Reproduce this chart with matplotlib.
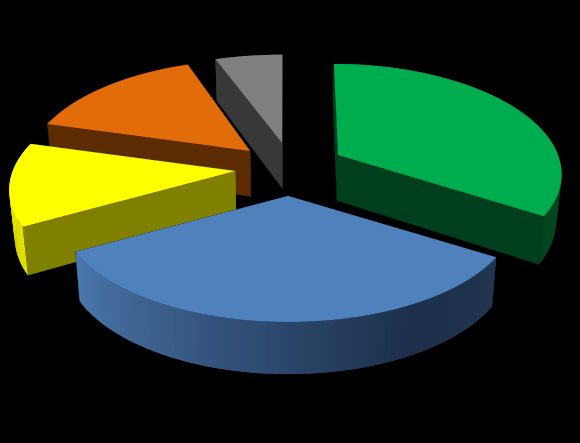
import numpy as np
import matplotlib
matplotlib.use('Agg')
import matplotlib.pyplot as plt
from matplotlib.collections import PolyCollection
from matplotlib.colors import LinearSegmentedColormap

# slice sizes in percent, clockwise from 12 o'clock
values = [33.9, 33.0, 12.4, 15.2, 5.5]

# explosion of each slice, in pixels from the pie centre
explode_x = [53, 3, -50, -35, -3]
explode_y = [-5, 36, 11, -9, -17]
scale_x = [1, 1.02, 1.01, 1, 1.03]
scale_y = [1, 1, 1, 1, 0.97]

top_colors = ['#00ad4e', '#4f81bd', '#ffff00', '#e26b0a', '#7f7f7f']
cut_colors = ['#003f1e', '#1f3350', '#808000', '#5c2b02', '#383838']
rim_colors = [['#006a30', '#00451f'],
              ['#22354f', '#1c2f4b', '#4a76ab'],
              ['#e6e600', '#e6e600'],
              ['#5c2b02', '#5c2b02'],
              ['#444444', '#333333']]
draw_order = [4, 3, 0, 2, 1]

cx, cy = 285, 160
a, b, k = 220, 105.7, 0.161
lean = 0.075


def top_point(theta, r, i):
    # perspective view of a point of the slice's top face
    u = r * np.sin(theta)
    v = -r * np.cos(theta)
    w = 1 - k * v
    x = cx + explode_x[i] + scale_x[i] * a * u / w + explode_x[i] * lean * v
    y = cy + explode_y[i] + scale_y[i] * b * v / w
    return x, y


def bottom_point(x, y):
    # same point on the lower face
    depth = 45.5 + 5 * (y - 155) / 126
    return cx + (x - cx) * 0.98, y + depth


fig = plt.figure(figsize=(5.8, 4.43), dpi=100, facecolor='black')
ax = fig.add_axes([0, 0, 1, 1])
ax.set_xlim(0, 580)
ax.set_ylim(443, 0)
ax.axis('off')

edges = np.radians(np.concatenate([[0], np.cumsum(values)]) * 360 / sum(values))

z = 1
for i in draw_order:
    t = np.linspace(edges[i], edges[i + 1], 90)
    x, y = top_point(t, 1, i)
    xb, yb = bottom_point(x, y)
    ax0, ay0 = top_point(0, 0, i)
    bx0, by0 = bottom_point(ax0, ay0)

    # outer rim, quads overlap a step so no seams show
    quads = [[(x[n], y[n]), (x[n + 2], y[n + 2]), (xb[n + 2], yb[n + 2]), (xb[n], yb[n])]
             for n in range(len(t) - 2)]
    if i == 1:
        cmap = LinearSegmentedColormap.from_list(
            'rim', list(zip([0, 0.25, 1], rim_colors[i])))
    else:
        cmap = LinearSegmentedColormap.from_list('rim', rim_colors[i])
    cols = cmap(np.linspace(0, 1, len(quads)))

    # slices at the back have their rim behind the cut faces
    mid = (edges[i] + edges[i + 1]) / 2
    rim_z = z if np.cos(mid) > 0 else z + 2

    ax.add_collection(PolyCollection(quads, facecolors=cols, edgecolors='none',
                                     linewidths=0, zorder=rim_z))

    # the two cut faces, the lower one on screen goes last
    zc = z + 1 if np.cos(mid) > 0 else z
    for j in sorted([0, -1], key=lambda n: y[n]):
        ax.fill([ax0, x[j], xb[j], bx0], [ay0, y[j], yb[j], by0],
                color=cut_colors[i], lw=0.3, zorder=zc)
        zc += 0.1

    # top face
    ax.fill(np.r_[ax0, x], np.r_[ay0, y], color=top_colors[i], lw=0, zorder=z + 3)
    z += 4

fig.savefig('out.png', dpi=100, facecolor='black')
